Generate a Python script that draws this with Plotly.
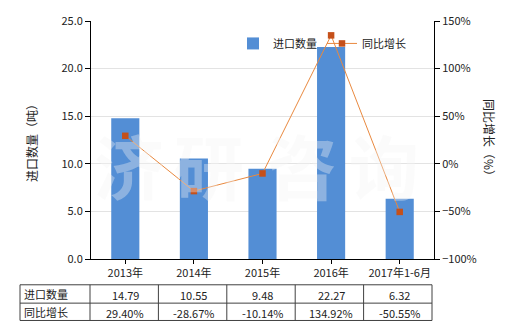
import plotly.graph_objects as go

categories = ["2013年", "2014年", "2015年", "2016年", "2017年1-6月"]
import_qty = [14.79, 10.55, 9.48, 22.27, 6.32]
yoy_growth = [29.40, -28.67, -10.14, 134.92, -50.55]
qty_labels = ["14.79", "10.55", "9.48", "22.27", "6.32"]
growth_labels = ["29.40%", "-28.67%", "-10.14%", "134.92%", "-50.55%"]
row_names = ["进口数量", "同比增长"]

FONT = "Noto Sans CJK SC"
W, H = 520, 330
L, R, T, B = 91, 86, 19, 71
pw, ph = W - L - R, H - T - B

def px_to_paper_x(x):
    return (x - L) / pw

def px_to_paper_y(y):
    return (H - B - y) / ph

fig = go.Figure()
fig.add_trace(go.Bar(
    x=categories, y=import_qty, name="进口数量",
    marker=dict(color="#538ed5", line=dict(width=0)),
    width=0.41, yaxis="y",
))
fig.add_trace(go.Scatter(
    x=categories, y=yoy_growth, name="同比增长", yaxis="y2",
    mode="lines+markers",
    line=dict(color="#e9893f", width=1),
    marker=dict(symbol="square", size=6.5, color="#c5501a"),
))

fig.update_layout(
    width=W, height=H,
    margin=dict(l=L, r=R, t=T, b=B, pad=0),
    paper_bgcolor="white", plot_bgcolor="white",
    font=dict(family=FONT, size=11, color="#222"),
    showlegend=True,
    legend=dict(orientation="h", x=px_to_paper_x(233), y=px_to_paper_y(27),
                xanchor="left", yanchor="top", bgcolor="rgba(0,0,0,0)",
                font=dict(size=11, family=FONT), itemwidth=30, tracegroupgap=0),
    bargap=0.59,
    xaxis=dict(type="category", showline=True, linecolor="black", linewidth=1,
               ticks="outside", ticklen=4, tickcolor="black", showgrid=False,
               tickfont=dict(size=11, family=FONT), mirror=False),
    yaxis=dict(range=[0, 25], dtick=5, tickformat=".1f", showline=True,
               linecolor="black", linewidth=1, ticks="outside", ticklen=5,
               tickcolor="black", showgrid=True, gridcolor="#e3e3e3",
               zeroline=False, tickfont=dict(size=11, family=FONT)),
    yaxis2=dict(range=[-100, 150], dtick=50, ticksuffix="%", overlaying="y",
                side="right", showline=True, linecolor="black", linewidth=1,
                ticks="outside", ticklen=5, tickcolor="black", showgrid=False,
                zeroline=False, tickfont=dict(size=11, family=FONT)),
)

annotations = []
# axis titles
annotations.append(dict(text="进口数量（吨）", xref="paper", yref="paper",
                        x=px_to_paper_x(31), y=px_to_paper_y(139), textangle=-90,
                        xanchor="center", yanchor="middle",
                        showarrow=False, font=dict(size=12, family=FONT)))
annotations.append(dict(text="同比增长（%）", xref="paper", yref="paper",
                        x=px_to_paper_x(490), y=px_to_paper_y(139), textangle=90,
                        xanchor="center", yanchor="middle",
                        showarrow=False, font=dict(size=12, family=FONT)))

# watermark
wm_chars = ["济", "研", "咨", "询"]
wm_x = [129, 209, 302, 384]
for ch, cx in zip(wm_chars, wm_x):
    annotations.append(dict(text="<b>" + ch + "</b>", xref="paper", yref="paper",
                            x=px_to_paper_x(cx), y=px_to_paper_y(164), showarrow=False,
                            xanchor="center", yanchor="middle",
                            font=dict(size=70, family=FONT, color="rgba(245,245,245,0.36)")))

# table
row_top, row_mid, row_bot = 285, 303.5, 321
tbl_left = 20
y_r1 = (row_top + row_mid) / 2
y_r2 = (row_mid + row_bot) / 2
annotations.append(dict(text=row_names[0], xref="paper", yref="paper",
                        x=px_to_paper_x(tbl_left + 2), y=px_to_paper_y(y_r1),
                        xanchor="left", yanchor="middle", showarrow=False,
                        font=dict(size=11, family=FONT)))
annotations.append(dict(text=row_names[1], xref="paper", yref="paper",
                        x=px_to_paper_x(tbl_left + 2), y=px_to_paper_y(y_r2),
                        xanchor="left", yanchor="middle", showarrow=False,
                        font=dict(size=11, family=FONT)))
for cat, ql, gl in zip(categories, qty_labels, growth_labels):
    annotations.append(dict(text=ql, xref="x", yref="paper", x=cat,
                            y=px_to_paper_y(y_r1 + 1), showarrow=False,
                            xanchor="center", yanchor="middle",
                            font=dict(size=11, family=FONT)))
    annotations.append(dict(text=gl, xref="x", yref="paper", x=cat,
                            y=px_to_paper_y(y_r2 + 1), showarrow=False,
                            xanchor="center", yanchor="middle",
                            font=dict(size=11, family=FONT)))

shapes = []
lc = dict(color="#404040", width=1)
x_left = px_to_paper_x(tbl_left)
x_right = px_to_paper_x(432)
for yy in (row_top, row_mid, row_bot):
    shapes.append(dict(type="line", xref="paper", yref="paper", x0=x_left, x1=x_right,
                       y0=px_to_paper_y(yy), y1=px_to_paper_y(yy), line=lc))
shapes.append(dict(type="line", xref="paper", yref="paper", x0=x_left, x1=x_left,
                   y0=px_to_paper_y(row_top), y1=px_to_paper_y(row_bot), line=lc))
n = len(categories)
for i in range(n + 1):
    xp = px_to_paper_x(90 + i * (432 - 90) / n)
    shapes.append(dict(type="line", xref="paper", yref="paper", x0=xp, x1=xp,
                       y0=px_to_paper_y(row_top), y1=px_to_paper_y(row_bot), line=lc))

fig.update_layout(annotations=annotations, shapes=shapes)
fig.write_html("out.html")
